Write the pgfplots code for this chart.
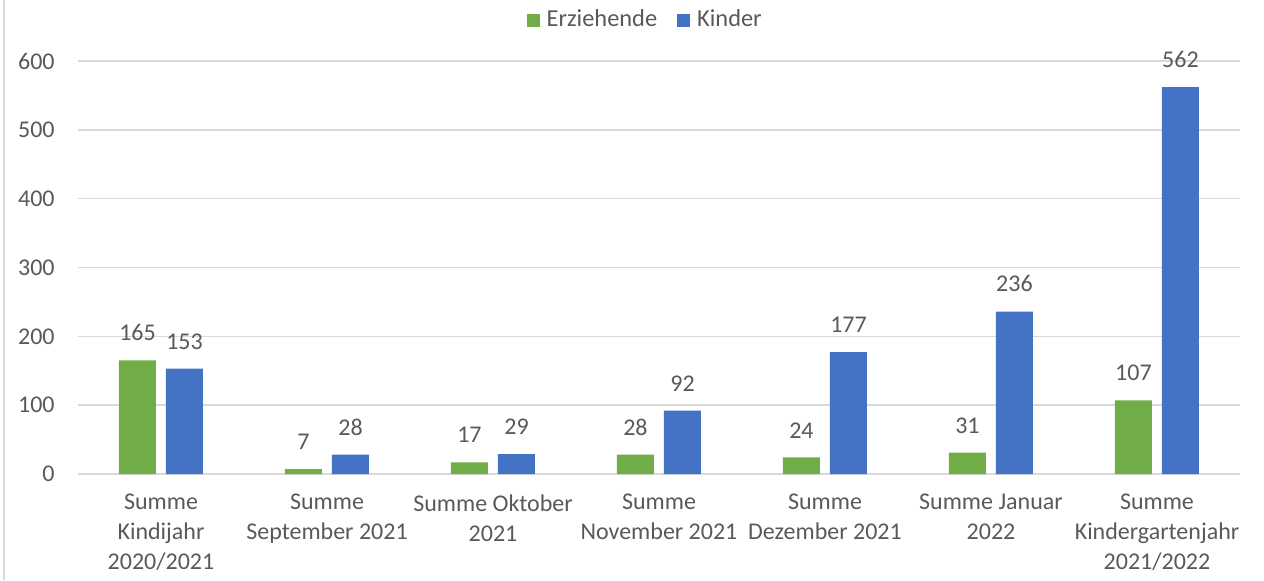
\documentclass[border=0pt]{standalone}
\usepackage{fontspec}
\setmainfont{Carlito}
\usepackage{pgfplots}
\pgfplotsset{compat=1.18}
\definecolor{cgreen}{HTML}{70AD47}
\definecolor{cblue}{HTML}{4472C4}
\definecolor{cgrid}{HTML}{D9D9D9}
\definecolor{ctext}{HTML}{595959}
\begin{document}
\fontsize{12}{15}\selectfont
\begin{tikzpicture}
\path[use as bounding box] (-39pt,-53pt) rectangle (593pt,237pt);
\draw[cgrid, line width=1pt] (-37pt,-53pt) -- (-37pt,237pt);
\begin{axis}[
  scale only axis,
  width=581pt, height=206.5pt,
  ybar=5pt, bar width=18.5pt,
  xmin=-0.5, xmax=6.5,
  ymin=0, ymax=600,
  ytick={0,100,...,600},
  xtick=data,
  xticklabels={{Summe\\Kindijahr\\2020/2021},{Summe\\September 2021},{Summe Oktober\\2021},{Summe\\November 2021},{Summe\\Dezember 2021},{Summe Januar\\2022},{Summe\\Kindergartenjahr\\2021/2022}},
  xticklabel style={align=center, font=\fontsize{12}{15}\selectfont, text=ctext, yshift=-6pt},
  yticklabel style={font=\fontsize{12}{15}\selectfont, text=ctext, xshift=-7.5pt},
  /pgf/number format/assume math mode=true,
  major tick length=0pt,
  axis x line*=bottom,
  axis y line*=left,
  x axis line style={draw=cgrid, line width=0.8pt},
  y axis line style={draw=none},
  ymajorgrids, grid style={cgrid, line width=0.8pt},
  nodes near coords,
  nodes near coords style={font=\fontsize{12}{15}\selectfont, text=ctext, yshift=5.5pt},
  legend style={at={(axis description cs:0.489,1.099)}, anchor=center, draw=none, legend columns=2, font=\fontsize{12.2}{15}\selectfont, text=ctext, /tikz/every even column/.append style={column sep=8pt}},
  legend image code/.code={\fill[#1] (0pt,-3.25pt) rectangle (6.5pt,3.25pt); \path (0pt,0pt) -- (8pt,0pt);},
  clip=false,
]
\addplot[fill=cgreen, draw=none] coordinates {(0,165) (1,7) (2,17) (3,28) (4,24) (5,31) (6,107)};
\addplot[fill=cblue, draw=none] coordinates {(0,153) (1,28) (2,29) (3,92) (4,177) (5,236) (6,562)};
\legend{Erziehende, Kinder}
\end{axis}
\end{tikzpicture}
\end{document}
